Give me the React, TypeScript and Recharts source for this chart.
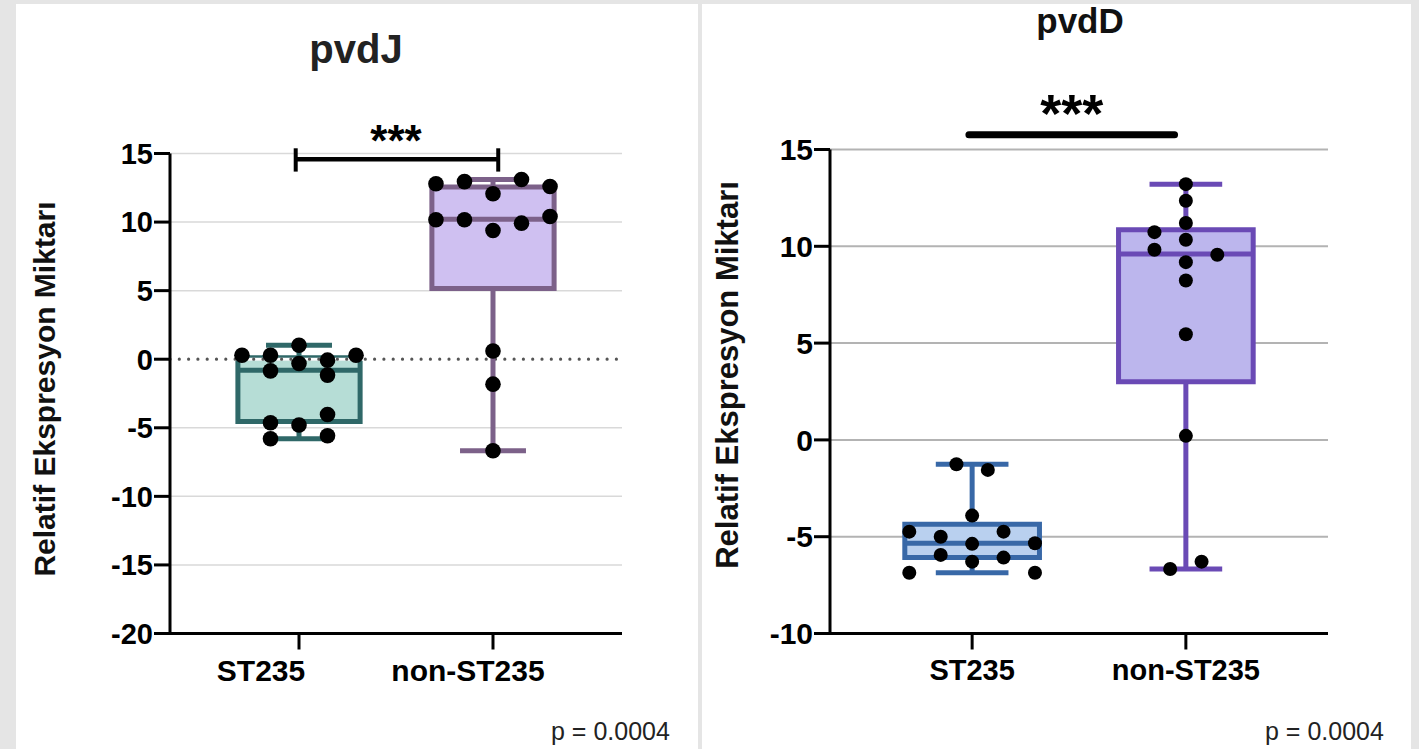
import {
  ComposedChart,
  XAxis,
  YAxis,
  CartesianGrid,
  Scatter,
  ReferenceArea,
  ReferenceLine,
  ReferenceDot,
} from 'recharts';

const groups = ['ST235', 'non-ST235'];

// pvdJ – individual values and their swarm slot (column in the dot cluster)
const pvdJ_st235 = [0.29, 0.29, 1.02, -0.31, -0.07, 0.29, -0.85, -1.16, -4.63, -4.8, -4.03, -5.8, -5.58];
const pvdJ_st235_slot = [-2, -1, 0, 0, 1, 2, -1, 1, -1, 0, 1, -1, 1];
const pvdJ_non = [12.79, 12.95, 12.06, 13.1, 12.59, 10.17, 10.17, 9.39, 9.92, 10.41, 0.6, -1.82, -6.67];
const pvdJ_non_slot = [-2, -1, 0, 1, 2, -2, -1, 0, 1, 2, 0, 0, 0];
// [min, q1, median, q3, max]
const pvdJ_st235_box = [-5.8, -4.55, -0.8, 0.1, 1.02];
const pvdJ_non_box = [-6.67, 5.15, 10.2, 12.55, 13.1];
const pvdJ_ticks = [-20, -15, -10, -5, 0, 5, 10, 15];

// pvdD
const pvdD_st235 = [-1.26, -1.55, -3.91, -4.74, -4.74, -5.0, -5.37, -5.34, -5.94, -6.08, -6.29, -6.86, -6.86];
const pvdD_st235_slot = [-0.5, 0.5, 0, -2, 1, -1, 0, 2, -1, 1, 0, -2, 2];
const pvdD_non = [13.21, 12.35, 11.2, 10.73, 10.34, 9.82, 9.56, 9.18, 8.23, 5.46, 0.21, -6.67, -6.29];
const pvdD_non_slot = [0, 0, 0, -1, 0, -1, 1, 0, 0, 0, 0, -0.5, 0.5];
const pvdD_st235_box = [-6.86, -6.08, -5.34, -4.36, -1.26];
const pvdD_non_box = [-6.67, 3.0, 9.6, 10.85, 13.21];
const pvdD_ticks = [-10, -5, 0, 5, 10, 15];

const pValue = 'p = 0.0004';

const FONT = '"Liberation Sans", Arial, Helvetica, sans-serif';
const SLOT = 0.147;
const X_DOMAIN: [number, number] = [0.335, 2.665];

type BoxColor = { fill: string; stroke: string };

function toPoints(gi: number, values: number[], slots: number[]) {
  return values.map((v, i) => ({ x: gi + 1 + slots[i] * SLOT, y: v }));
}

function boxElements(key: string, gi: number, stats: number[], color: BoxColor, lw: number) {
  const [min, q1, med, q3, max] = stats;
  const c = gi + 1;
  const hw = 0.315;
  const cw = 0.17;
  const line = { stroke: color.stroke, strokeWidth: lw };
  return [
    <ReferenceLine key={key + 'wu'} segment={[{ x: c, y: q3 }, { x: c, y: max }]} {...line} />,
    <ReferenceLine key={key + 'wl'} segment={[{ x: c, y: min }, { x: c, y: q1 }]} {...line} />,
    <ReferenceLine key={key + 'cu'} segment={[{ x: c - cw, y: max }, { x: c + cw, y: max }]} {...line} />,
    <ReferenceLine key={key + 'cl'} segment={[{ x: c - cw, y: min }, { x: c + cw, y: min }]} {...line} />,
    <ReferenceArea
      key={key + 'box'}
      x1={c - hw}
      x2={c + hw}
      y1={q1}
      y2={q3}
      fill={color.fill}
      fillOpacity={1}
      stroke={color.stroke}
      strokeWidth={lw}
    />,
    <ReferenceLine key={key + 'med'} segment={[{ x: c - hw, y: med }, { x: c + hw, y: med }]} {...line} />,
  ];
}

const dotJ = (props: any) => <circle cx={props.cx} cy={props.cy} r={7.8} fill="#000" />;
const dotD = (props: any) => <circle cx={props.cx} cy={props.cy} r={7} fill="#000" />;

function axisProps(fontSize: number) {
  return {
    tick: { fill: '#000', fontSize, fontWeight: 700, fontFamily: FONT },
    axisLine: { stroke: '#000', strokeWidth: 3 },
    tickLine: { stroke: '#000', strokeWidth: 3 },
    tickSize: 16,
  };
}

// the pvdJ category labels sit a little left of their tick marks in the original
const pvdJLabelShift = [-38, -25];
function PvdJTick(props: any) {
  const { x, y, payload } = props;
  const i = payload.value - 1;
  return (
    <text
      x={x + pvdJLabelShift[i]}
      y={y}
      dy="0.71em"
      textAnchor="middle"
      fill="#000"
      fontSize={30}
      fontWeight={700}
      fontFamily={FONT}
    >
      {groups[i]}
    </text>
  );
}

function PvdJChart() {
  const teal = { fill: '#b6ddd6', stroke: '#2f6868' };
  const mauve = { fill: '#cfc0f1', stroke: '#7c6189' };
  return (
    <ComposedChart width={700} height={749} margin={{ top: 153.5, right: 78, bottom: 55.5, left: 0 }}>
      <CartesianGrid horizontal vertical={false} stroke="#d9d9d9" strokeWidth={1.5} />
      <XAxis
        type="number"
        dataKey="x"
        domain={X_DOMAIN}
        allowDataOverflow
        ticks={[1, 2]}
        interval={0}
        height={60}
        tickMargin={10}
        {...axisProps(30)}
        tick={<PvdJTick />}
      />
      <YAxis
        type="number"
        dataKey="y"
        domain={[-20, 15]}
        allowDataOverflow
        ticks={pvdJ_ticks}
        interval={0}
        width={170}
        tickMargin={1}
        {...axisProps(29)}
      />
      <ReferenceLine y={0} stroke="#ffffff" strokeWidth={3} />
      <ReferenceLine y={0} stroke="#555" strokeWidth={3.2} strokeDasharray="0 9.3" strokeLinecap="round" />
      {boxElements('j0', 0, pvdJ_st235_box, teal, 5)}
      {boxElements('j1', 1, pvdJ_non_box, mauve, 5)}
      <ReferenceLine segment={[{ x: 0.983, y: 14.58 }, { x: 2.027, y: 14.58 }]} stroke="#000" strokeWidth={4.5} ifOverflow="visible" />
      <ReferenceLine segment={[{ x: 0.983, y: 13.68 }, { x: 0.983, y: 15.38 }]} stroke="#000" strokeWidth={4} ifOverflow="visible" />
      <ReferenceLine segment={[{ x: 2.027, y: 13.68 }, { x: 2.027, y: 15.38 }]} stroke="#000" strokeWidth={4} ifOverflow="visible" />
      <ReferenceDot
        x={1.5}
        y={15.95}
        r={0}
        fill="none"
        stroke="none"
        ifOverflow="visible"
        label={{ value: '***', position: 'center', fill: '#000', fontSize: 44, fontWeight: 700, fontFamily: FONT }}
      />
      <Scatter data={toPoints(0, pvdJ_st235, pvdJ_st235_slot)} shape={dotJ} isAnimationActive={false} />
      <Scatter data={toPoints(1, pvdJ_non, pvdJ_non_slot)} shape={dotJ} isAnimationActive={false} />
    </ComposedChart>
  );
}

function PvdDChart() {
  const blue = { fill: '#b9d0ef', stroke: '#3868a7' };
  const violet = { fill: '#bcb6ed', stroke: '#6a4ab5' };
  return (
    <ComposedChart width={719} height={749} margin={{ top: 149.5, right: 91, bottom: 55.5, left: 0 }}>
      <CartesianGrid horizontal vertical={false} stroke="#b3b3b3" strokeWidth={2} />
      <XAxis
        type="number"
        dataKey="x"
        domain={X_DOMAIN}
        allowDataOverflow
        ticks={[1, 2]}
        interval={0}
        tickFormatter={(v: number) => groups[v - 1]}
        height={60}
        tickMargin={10}
        {...axisProps(29)}
      />
      <YAxis
        type="number"
        dataKey="y"
        domain={[-10, 15]}
        allowDataOverflow
        ticks={pvdD_ticks}
        interval={0}
        width={130}
        tickMargin={1}
        {...axisProps(30)}
      />
      {boxElements('d0', 0, pvdD_st235_box, blue, 5)}
      {boxElements('d1', 1, pvdD_non_box, violet, 5)}
      <ReferenceLine
        segment={[{ x: 0.985, y: 15.76 }, { x: 1.947, y: 15.76 }]}
        stroke="#000"
        strokeWidth={7}
        strokeLinecap="round"
        ifOverflow="visible"
      />
      <ReferenceDot
        x={1.466}
        y={16.9}
        r={0}
        fill="none"
        stroke="none"
        ifOverflow="visible"
        label={{ value: '***', position: 'center', fill: '#000', fontSize: 54, fontWeight: 700, fontFamily: FONT }}
      />
      <Scatter data={toPoints(0, pvdD_st235, pvdD_st235_slot)} shape={dotD} isAnimationActive={false} />
      <Scatter data={toPoints(1, pvdD_non, pvdD_non_slot)} shape={dotD} isAnimationActive={false} />
    </ComposedChart>
  );
}

export default function App() {
  return (
    <div
      style={{
        position: 'absolute',
        left: 0,
        top: 0,
        width: 1419,
        height: 749,
        background: '#e5e5e5',
        overflow: 'hidden',
        fontFamily: FONT,
      }}
    >
      <div style={{ position: 'absolute', left: 16, top: 4, width: 682, height: 745, background: '#fff' }} />
      <div style={{ position: 'absolute', left: 702, top: 4, width: 709, height: 745, background: '#fff' }} />
      <div style={{ position: 'absolute', left: 0, top: 0 }}>
        <PvdJChart />
      </div>
      <div style={{ position: 'absolute', left: 700, top: 0 }}>
        <PvdDChart />
      </div>
      <svg
        width={1419}
        height={749}
        style={{ position: 'absolute', left: 0, top: 0, pointerEvents: 'none' }}
        fontFamily={FONT}
      >
        <text x={356} y={63} textAnchor="middle" fontSize={40} fontWeight={700} fill="#222">pvdJ</text>
        <text x={1080} y={33} textAnchor="middle" fontSize={35} fontWeight={700} fill="#111">pvdD</text>
        <text transform="translate(55,389) rotate(-90)" textAnchor="middle" fontSize={30} fontWeight={700} fill="#111">
          Relatif Ekspresyon Miktarı
        </text>
        <text transform="translate(738,375) rotate(-90)" textAnchor="middle" fontSize={31} fontWeight={700} fill="#111">
          Relatif Ekspresyon Miktarı
        </text>
        <text x={551} y={740} fontSize={25} fill="#222">{pValue}</text>
        <text x={1265} y={740} fontSize={25} fill="#222">{pValue}</text>
      </svg>
    </div>
  );
}
